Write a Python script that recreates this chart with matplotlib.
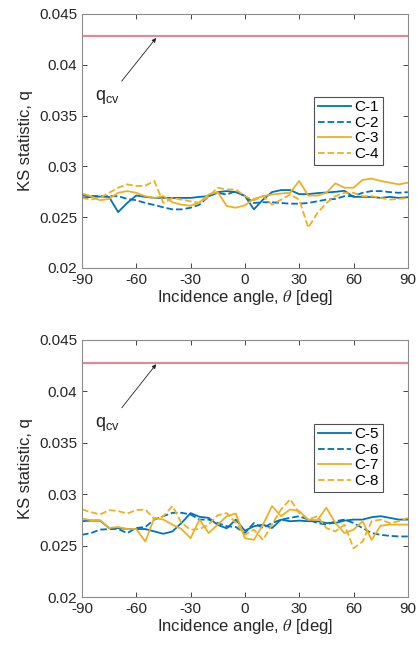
import numpy as np
import matplotlib.pyplot as plt

plt.rcParams['font.family'] = ['Liberation Sans', 'DejaVu Sans']
plt.rcParams['mathtext.fontset'] = 'stix'
plt.rcParams['axes.unicode_minus'] = False

BLUE = '#0072BD'
YELLOW = '#EDB120'
QCV_COLOR = '#dc8a9c'

# incidence angles, 5 deg steps
theta = np.arange(-90, 91, 5)

# critical value of the KS statistic
q_cv = 0.0428

# top panel
c1 = [0.02690, 0.02700, 0.02703, 0.02700, 0.02550, 0.02640, 0.02713, 0.02700, 0.02690, 0.02690,
      0.02690, 0.02690, 0.02690, 0.02700, 0.02707, 0.02747, 0.02757, 0.02747, 0.02710, 0.02577,
      0.02673, 0.02747, 0.02767, 0.02767, 0.02727, 0.02727, 0.02737, 0.02743, 0.02750, 0.02760,
      0.02700, 0.02700, 0.02700, 0.02690, 0.02700, 0.02690, 0.02697]
c2 = [0.02713, 0.02710, 0.02707, 0.02707, 0.02707, 0.02680, 0.02667, 0.02640, 0.02620, 0.02597,
      0.02577, 0.02577, 0.02593, 0.02623, 0.02707, 0.02740, 0.02723, 0.02757, 0.02707, 0.02640,
      0.02647, 0.02647, 0.02640, 0.02633, 0.02633, 0.02640, 0.02657, 0.02673, 0.02680, 0.02707,
      0.02707, 0.02740, 0.02757, 0.02757, 0.02747, 0.02740, 0.02747]
c3 = [0.02733, 0.02707, 0.02667, 0.02680, 0.02740, 0.02757, 0.02740, 0.02707, 0.02690, 0.02707,
      0.02647, 0.02623, 0.02613, 0.02647, 0.02723, 0.02747, 0.02610, 0.02593, 0.02617, 0.02680,
      0.02707, 0.02723, 0.02733, 0.02740, 0.02857, 0.02713, 0.02713, 0.02740, 0.02833, 0.02790,
      0.02790, 0.02867, 0.02880, 0.02857, 0.02840, 0.02823, 0.02840]
c4 = [0.02690, 0.02673, 0.02690, 0.02740, 0.02790, 0.02823, 0.02807, 0.02810, 0.02857, 0.02640,
      0.02690, 0.02673, 0.02657, 0.02640, 0.02707, 0.02790, 0.02773, 0.02773, 0.02707, 0.02667,
      0.02707, 0.02623, 0.02673, 0.02723, 0.02673, 0.02397, 0.02540, 0.02640, 0.02707, 0.02740,
      0.02740, 0.02707, 0.02707, 0.02690, 0.02673, 0.02680, 0.02690]

# bottom panel
c5 = [0.02737, 0.02743, 0.02743, 0.02671, 0.02671, 0.02661, 0.02661, 0.02661, 0.02638, 0.02615,
      0.02638, 0.02720, 0.02816, 0.02780, 0.02770, 0.02701, 0.02668, 0.02753, 0.02645, 0.02688,
      0.02704, 0.02671, 0.02753, 0.02737, 0.02743, 0.02737, 0.02737, 0.02720, 0.02720, 0.02743,
      0.02753, 0.02753, 0.02776, 0.02786, 0.02770, 0.02753, 0.02753]
c6 = [0.02605, 0.02622, 0.02655, 0.02661, 0.02661, 0.02622, 0.02671, 0.02681, 0.02753, 0.02786,
      0.02819, 0.02819, 0.02803, 0.02753, 0.02753, 0.02720, 0.02688, 0.02681, 0.02622, 0.02720,
      0.02671, 0.02720, 0.02753, 0.02770, 0.02786, 0.02753, 0.02720, 0.02704, 0.02737, 0.02753,
      0.02720, 0.02671, 0.02622, 0.02605, 0.02595, 0.02589, 0.02589]
c7 = [0.02763, 0.02747, 0.02747, 0.02671, 0.02681, 0.02661, 0.02661, 0.02539, 0.02770, 0.02753,
      0.02704, 0.02661, 0.02572, 0.02753, 0.02622, 0.02704, 0.02786, 0.02812, 0.02572, 0.02556,
      0.02704, 0.02885, 0.02786, 0.02852, 0.02836, 0.02753, 0.02747, 0.02868, 0.02720, 0.02622,
      0.02655, 0.02737, 0.02556, 0.02694, 0.02704, 0.02704, 0.02704]
c8 = [0.02852, 0.02826, 0.02803, 0.02845, 0.02836, 0.02812, 0.02845, 0.02852, 0.02757, 0.02786,
      0.02885, 0.02720, 0.02655, 0.02661, 0.02704, 0.02796, 0.02816, 0.02720, 0.02605, 0.02655,
      0.02556, 0.02704, 0.02852, 0.02951, 0.02819, 0.02753, 0.02786, 0.02671, 0.02638, 0.02704,
      0.02474, 0.02540, 0.02737, 0.02753, 0.02720, 0.02737, 0.02770]

panels = [
    [('C-1', c1, BLUE, '-'), ('C-2', c2, BLUE, '--'),
     ('C-3', c3, YELLOW, '-'), ('C-4', c4, YELLOW, '--')],
    [('C-5', c5, BLUE, '-'), ('C-6', c6, BLUE, '--'),
     ('C-7', c7, YELLOW, '-'), ('C-8', c8, YELLOW, '--')],
]

fig = plt.figure(figsize=(4.2, 6.45), dpi=100)
ax_top = fig.add_axes([0.195, 0.5845, 0.776, 0.3938])
ax_bot = fig.add_axes([0.195, 0.0744, 0.776, 0.3985])

for ax, series in zip([ax_top, ax_bot], panels):
    ax.axhline(q_cv, color=QCV_COLOR, lw=1.6, zorder=1)
    for name, vals, col, ls in series:
        ax.plot(theta, vals, color=col, ls=ls, lw=1.3, label=name)

    ax.annotate('', xy=(-49, 0.04264), xytext=(-68, 0.0384),
                arrowprops=dict(arrowstyle='-|>', lw=0.6, color='#222222',
                                mutation_scale=6, shrinkA=0, shrinkB=0))
    ax.text(-82.5, 0.0368, r'$\mathregular{q_{cv}}$', fontsize=13,
            color='#222222', ha='left', va='center')

    ax.set_xlim(-90, 90)
    ax.set_ylim(0.02, 0.045)
    ax.set_xticks(np.arange(-90, 91, 30))
    ax.set_yticks([0.02, 0.025, 0.03, 0.035, 0.04, 0.045])
    ax.set_yticklabels(['0.02', '0.025', '0.03', '0.035', '0.04', '0.045'])
    ax.tick_params(direction='in', top=True, right=True, length=3.5,
                   width=0.6, color='#262626', labelsize=11,
                   labelcolor='#262626')
    for sp in ax.spines.values():
        sp.set_color('#8c8c8c')
        sp.set_linewidth(0.8)

    ax.set_xlabel(r'Incidence angle, $\theta$ [deg]', fontsize=12,
                  color='#262626', labelpad=1)
    ax.set_ylabel('KS statistic, q', fontsize=12, color='#262626', labelpad=4)

    leg = ax.legend(loc='upper right', bbox_to_anchor=(0.923, 0.675),
                    fontsize=11, frameon=True, fancybox=False,
                    handlelength=2.2, handletextpad=0.2, borderpad=0.25,
                    labelspacing=0.1, borderaxespad=0)
    leg.get_frame().set_edgecolor('#262626')
    leg.get_frame().set_linewidth(0.8)

fig.savefig('out.png', dpi=100)
